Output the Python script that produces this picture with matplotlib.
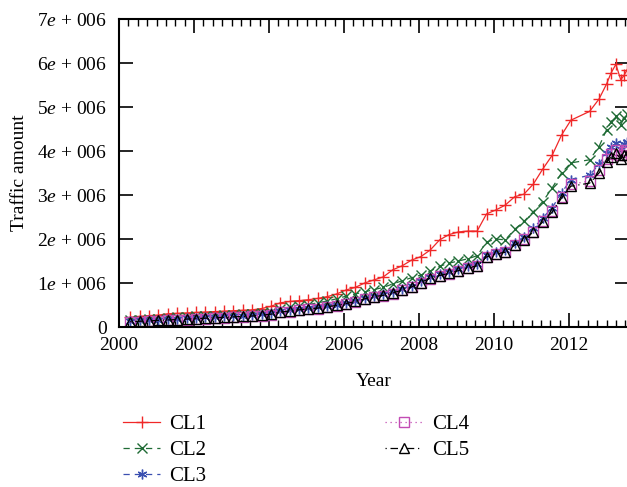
import matplotlib
matplotlib.use("Agg")
import matplotlib.pyplot as plt
from matplotlib.ticker import MultipleLocator, FuncFormatter

plt.rcParams["font.family"] = ["Liberation Serif", "DejaVu Serif"]
plt.rcParams["mathtext.fontset"] = "custom"
plt.rcParams["mathtext.it"] = "Liberation Serif:italic"
plt.rcParams["mathtext.rm"] = "Liberation Serif"

# Sampling dates (fractional years, roughly quarterly)
years = [2000.30, 2000.55, 2000.80, 2001.05, 2001.30, 2001.55, 2001.80,
         2002.05, 2002.30, 2002.55, 2002.80, 2003.05, 2003.30, 2003.55,
         2003.80, 2004.05, 2004.30, 2004.55, 2004.80, 2005.05, 2005.30,
         2005.55, 2005.80, 2006.05, 2006.30, 2006.55, 2006.80, 2007.05,
         2007.30, 2007.55, 2007.80, 2008.05, 2008.30, 2008.55, 2008.80,
         2009.05, 2009.30, 2009.55, 2009.80, 2010.05, 2010.30, 2010.55,
         2010.80, 2011.05, 2011.30, 2011.55, 2011.80, 2012.05, 2012.55,
         2012.80, 2013.00, 2013.12, 2013.25, 2013.38, 2013.47, 2013.55]

# Traffic amount per cluster (millions)
cl1 = [0.22, 0.24, 0.26, 0.27, 0.30, 0.31, 0.32, 0.33, 0.34, 0.35, 0.36,
       0.37, 0.38, 0.39, 0.42, 0.47, 0.55, 0.58, 0.60, 0.62, 0.65, 0.69,
       0.75, 0.84, 0.90, 1.00, 1.07, 1.14, 1.30, 1.39, 1.52, 1.60, 1.75,
       1.98, 2.10, 2.16, 2.18, 2.18, 2.57, 2.66, 2.77, 2.96, 3.02, 3.25,
       3.59, 3.90, 4.36, 4.70, 4.90, 5.18, 5.52, 5.77, 5.97, 5.62, 5.72,
       5.85]
cl2 = [0.16, 0.17, 0.18, 0.19, 0.21, 0.22, 0.23, 0.24, 0.25, 0.26, 0.27,
       0.28, 0.29, 0.30, 0.32, 0.35, 0.42, 0.45, 0.48, 0.51, 0.55, 0.59,
       0.64, 0.70, 0.75, 0.80, 0.85, 0.90, 0.98, 1.05, 1.12, 1.18, 1.27,
       1.38, 1.45, 1.50, 1.55, 1.62, 1.93, 2.00, 1.98, 2.22, 2.40, 2.62,
       2.85, 3.16, 3.50, 3.73, 3.80, 4.10, 4.48, 4.66, 4.80, 4.60, 4.75,
       4.85]
cl3 = [0.14, 0.15, 0.16, 0.17, 0.18, 0.19, 0.20, 0.21, 0.22, 0.23, 0.24,
       0.25, 0.26, 0.27, 0.29, 0.31, 0.36, 0.38, 0.41, 0.43, 0.45, 0.48,
       0.51, 0.55, 0.60, 0.66, 0.71, 0.75, 0.80, 0.87, 0.94, 1.04, 1.14,
       1.20, 1.26, 1.32, 1.38, 1.43, 1.64, 1.71, 1.76, 1.92, 2.05, 2.24,
       2.48, 2.71, 3.05, 3.35, 3.45, 3.70, 3.95, 4.08, 4.18, 4.05, 4.15,
       4.20]
cl4 = [0.11, 0.12, 0.13, 0.14, 0.15, 0.16, 0.17, 0.18, 0.19, 0.20, 0.21,
       0.22, 0.23, 0.24, 0.26, 0.28, 0.33, 0.35, 0.38, 0.40, 0.42, 0.45,
       0.48, 0.52, 0.57, 0.63, 0.68, 0.71, 0.76, 0.83, 0.90, 1.00, 1.10,
       1.16, 1.21, 1.27, 1.33, 1.38, 1.58, 1.66, 1.70, 1.86, 1.99, 2.17,
       2.41, 2.64, 2.96, 3.24, 3.32, 3.56, 3.82, 3.93, 4.02, 3.90, 3.98,
       4.02]
cl5 = [0.12, 0.13, 0.14, 0.15, 0.16, 0.17, 0.18, 0.19, 0.20, 0.21, 0.22,
       0.23, 0.24, 0.25, 0.27, 0.29, 0.34, 0.36, 0.39, 0.41, 0.43, 0.46,
       0.49, 0.53, 0.58, 0.64, 0.69, 0.72, 0.77, 0.84, 0.91, 1.01, 1.11,
       1.17, 1.22, 1.28, 1.34, 1.39, 1.59, 1.66, 1.70, 1.86, 1.98, 2.16,
       2.39, 2.61, 2.93, 3.20, 3.27, 3.50, 3.75, 3.86, 3.95, 3.82, 3.90,
       3.92]

labels = ["CL1", "CL2", "CL3", "CL4", "CL5"]
x_major_ticks = [2000, 2002, 2004, 2006, 2008, 2010, 2012]

W, H = 627, 487
fig = plt.figure(figsize=(W / 100, H / 100), dpi=100)
ax = fig.add_axes([119 / W, 1 - 327 / H, 510 / W, 308 / H])

scale = 1e6
styles = [
    dict(color="#f02828", ls="-", marker="+", ms=8.5, mew=1.0),
    dict(color="#1f6b35", ls=(0, (5, 4)), marker="x", ms=6.5, mew=1.0),
    dict(color="#3a4fb0", ls=(0, (5, 4)), marker=(6, 2, 0), ms=7, mew=1.0),
    dict(color="#c24cb4", ls=(0, (1, 3)), marker="s", ms=7, mew=1.0,
         mfc="none"),
    dict(color="black", ls=(0, (1, 3, 6, 3)), marker="^", ms=6.5, mew=1.0,
         mfc="none"),
]
series = [cl1, cl2, cl3, cl4, cl5]
for vals, lab, st in zip(series, labels, styles):
    ax.plot(years, [v * scale for v in vals], label=lab, lw=0.9, **st)

ax.set_xlim(2000, 2013.6)
ax.set_ylim(0, 7e6)
ax.set_xticks(x_major_ticks)
ax.xaxis.set_minor_locator(MultipleLocator(0.25))
ax.yaxis.set_major_locator(MultipleLocator(1e6))


def sci_label(v, pos):
    if v == 0:
        return "0"
    return r"%d$e$ + 006" % round(v / 1e6)


ax.yaxis.set_major_formatter(FuncFormatter(sci_label))
ax.tick_params(which="major", direction="in", length=10, width=1.2,
               top=True, right=True, labelsize=14)
ax.tick_params(axis="y", which="major", pad=9)
ax.tick_params(axis="x", which="major", pad=7)
ax.tick_params(which="minor", direction="in", length=5, width=1.0,
               top=True, right=False)
ax.tick_params(axis="y", which="minor", left=False, right=False)
for sp in ax.spines.values():
    sp.set_linewidth(1.5)

ax.set_xlabel("Year", fontsize=14, labelpad=14)
ax.set_ylabel("Traffic amount", fontsize=14, labelpad=6)

fig.legend(loc="upper left", bbox_to_anchor=(104 / W, 1 - 396 / H),
           ncol=2, frameon=False, fontsize=15, numpoints=1,
           handlelength=1.8, handletextpad=0.45, columnspacing=8.55,
           labelspacing=0.3)

fig.savefig("out.png", dpi=100)
